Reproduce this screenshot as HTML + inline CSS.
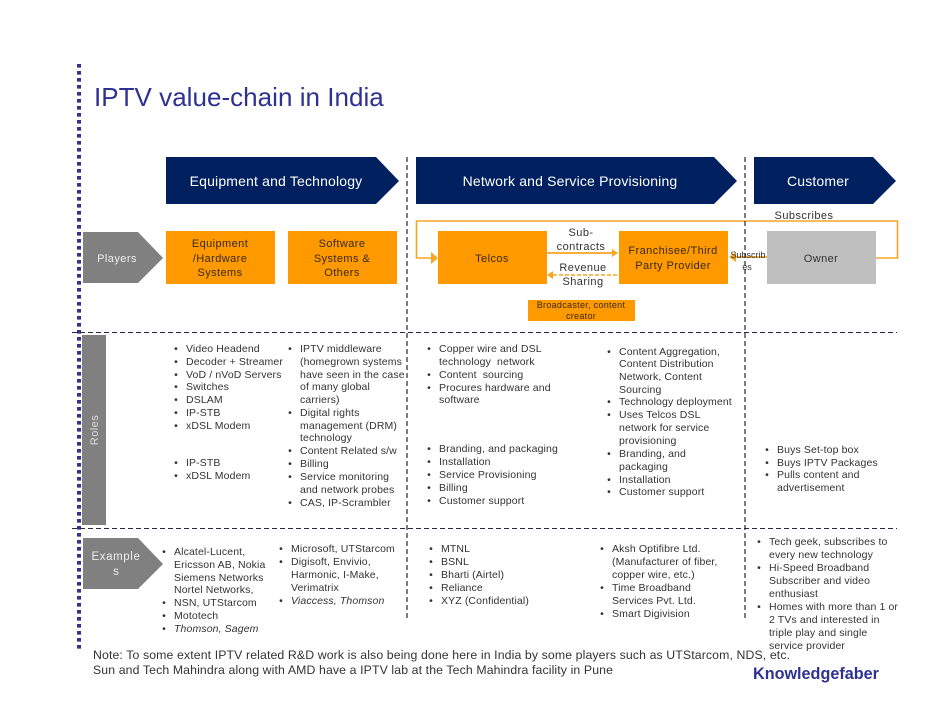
<!DOCTYPE html>
<html>
<head>
<meta charset="utf-8">
<style>
html,body{margin:0;padding:0;background:#fff;width:942px;height:728px;overflow:hidden}
svg{display:block}
text{font-family:"Liberation Sans",sans-serif}
.t{font-size:10.5px;fill:#333;letter-spacing:.12px}
.b{font-size:10.5px;fill:#333;text-anchor:middle}
.h{font-size:14px;fill:#fff;text-anchor:middle;letter-spacing:.17px}
.c{font-size:11px;fill:#3a2a10;text-anchor:middle;letter-spacing:.42px}
.l{font-size:11px;fill:#333;text-anchor:middle;letter-spacing:.45px}
.n{font-size:12.3px;fill:#333;letter-spacing:.11px}
</style>
</head>
<body>
<svg width="942" height="728" viewBox="0 0 942 728" xmlns="http://www.w3.org/2000/svg">
<line x1="79" y1="64" x2="79" y2="652" stroke="#33338a" stroke-width="4" stroke-dasharray="3.6 3.4"/>
<text x="94" y="106" font-size="26" fill="#2e3192" letter-spacing=".03">IPTV value-chain in India</text>

<polygon points="166,157 376,157 399,181 376,204 166,204" fill="#002060"/>
<polygon points="416,157 714,157 737,181 714,204 416,204" fill="#002060"/>
<polygon points="754,157 873,157 896,181 873,204 754,204" fill="#002060"/>
<text class="h" x="276" y="186">Equipment and Technology</text>
<text class="h" x="570" y="186">Network and Service Provisioning</text>
<text class="h" x="818" y="186">Customer</text>

<polygon points="83,232 138,232 163,258 138,283 83,283" fill="#808080"/>
<text x="117" y="262" font-size="11" fill="#eee" text-anchor="middle" letter-spacing=".45">Players</text>

<rect x="166" y="231" width="109" height="53" fill="#ff9900"/>
<rect x="288" y="231" width="109" height="53" fill="#ff9900"/>
<rect x="438" y="231" width="109" height="53" fill="#ff9900"/>
<rect x="619" y="231" width="109" height="53" fill="#ff9900"/>
<rect x="767" y="231" width="109" height="53" fill="#bfbfbf"/>
<rect x="528" y="300" width="107" height="21" fill="#ff9900"/>

<text class="c" x="220" y="247">Equipment</text>
<text class="c" x="220" y="262">/Hardware</text>
<text class="c" x="220" y="276">Systems</text>
<text class="c" x="342" y="247">Software</text>
<text class="c" x="342" y="262">Systems &amp;</text>
<text class="c" x="342" y="276">Others</text>
<text class="c" x="492" y="262">Telcos</text>
<text class="c" x="673" y="254">Franchisee/Third</text>
<text class="c" x="673" y="269">Party Provider</text>
<text class="c" x="821" y="262" style="fill:#333">Owner</text>
<text x="581" y="308" font-size="9" fill="#3a2a10" text-anchor="middle" letter-spacing=".3">Broadcaster, content</text>
<text x="581" y="319" font-size="9" fill="#3a2a10" text-anchor="middle" letter-spacing=".3">creator</text>

<polyline points="876,258 897.5,258 897.5,221 416.5,221 416.5,258 432,258" fill="none" stroke="#f5a623" stroke-width="1.6"/>
<polygon points="431,252 438,258 431,264" fill="#f5a623"/>
<line x1="547" y1="253" x2="612" y2="253" stroke="#f5a623" stroke-width="1.8"/>
<polygon points="612,249 618,253 612,257" fill="#f5a623"/>
<line x1="553" y1="275" x2="618" y2="275" stroke="#f5a623" stroke-width="1.6" stroke-dasharray="4 2"/>
<polygon points="553,271 547,275 553,279" fill="#f5a623"/>
<line x1="736" y1="257" x2="767" y2="257" stroke="#f5a623" stroke-width="1.8"/>
<polygon points="736,252 729,257 736,262" fill="#f5a623"/>

<line x1="407" y1="157" x2="407" y2="620" stroke="#444" stroke-width="1.4" stroke-dasharray="5 3"/>
<line x1="745" y1="157" x2="745" y2="620" stroke="#444" stroke-width="1.4" stroke-dasharray="5 3"/>
<line x1="72" y1="332.5" x2="897" y2="332.5" stroke="#1f2a44" stroke-width="1" stroke-dasharray="5 3"/>
<line x1="72" y1="528.5" x2="897" y2="528.5" stroke="#1f2a44" stroke-width="1" stroke-dasharray="5 3"/>

<text class="l" x="804" y="219">Subscribes</text>
<text class="l" x="581" y="236">Sub-</text>
<text class="l" x="581" y="250">contracts</text>
<text class="l" x="583" y="271">Revenue</text>
<text class="l" x="583" y="285">Sharing</text>
<text x="748" y="258" font-size="9" fill="#333" text-anchor="middle">Subscrib</text>
<text x="747" y="270" font-size="9" fill="#333" text-anchor="middle">es</text>

<rect x="82" y="335" width="24" height="190" fill="#808080"/>
<text x="0" y="0" font-size="11" fill="#ddd" text-anchor="middle" letter-spacing=".45" transform="translate(98,430) rotate(-90)">Roles</text>

<polygon points="83,538 138,538 163,564 138,589 83,589" fill="#808080"/>
<text x="116" y="560" font-size="11.5" fill="#eee" text-anchor="middle" letter-spacing=".6">Example</text>
<text x="116" y="575" font-size="11.5" fill="#eee" text-anchor="middle">s</text>

<!-- Roles col 1 -->
<g>
<text class="b" x="176" y="352">•</text><text class="t" x="186" y="352">Video Headend</text>
<text class="b" x="176" y="365">•</text><text class="t" x="186" y="365">Decoder + Streamer</text>
<text class="b" x="176" y="378">•</text><text class="t" x="186" y="378">VoD / nVoD Servers</text>
<text class="b" x="176" y="390">•</text><text class="t" x="186" y="390">Switches</text>
<text class="b" x="176" y="403">•</text><text class="t" x="186" y="403">DSLAM</text>
<text class="b" x="176" y="416">•</text><text class="t" x="186" y="416">IP-STB</text>
<text class="b" x="176" y="429">•</text><text class="t" x="186" y="429">xDSL Modem</text>
<text class="b" x="176" y="466">•</text><text class="t" x="186" y="466">IP-STB</text>
<text class="b" x="176" y="479">•</text><text class="t" x="186" y="479">xDSL Modem</text>
</g>
<!-- Roles col 2 -->
<g>
<text class="b" x="290" y="352">•</text><text class="t" x="300" y="352">IPTV middleware</text>
<text class="t" x="300" y="365">(homegrown systems</text>
<text class="t" x="300" y="378">have seen in the case</text>
<text class="t" x="300" y="390">of many global</text>
<text class="t" x="300" y="403">carriers)</text>
<text class="b" x="290" y="416">•</text><text class="t" x="300" y="416">Digital rights</text>
<text class="t" x="300" y="429">management (DRM)</text>
<text class="t" x="300" y="441">technology</text>
<text class="b" x="290" y="454">•</text><text class="t" x="300" y="454">Content Related s/w</text>
<text class="b" x="290" y="467">•</text><text class="t" x="300" y="467">Billing</text>
<text class="b" x="290" y="480">•</text><text class="t" x="300" y="480">Service monitoring</text>
<text class="t" x="300" y="493">and network probes</text>
<text class="b" x="290" y="506">•</text><text class="t" x="300" y="506">CAS, IP-Scrambler</text>
</g>
<!-- Roles col 3 -->
<g>
<text class="b" x="429" y="352">•</text><text class="t" x="439" y="352">Copper wire and DSL</text>
<text class="t" x="439" y="365" xml:space="preserve">technology  network</text>
<text class="b" x="429" y="378">•</text><text class="t" x="439" y="378" xml:space="preserve">Content  sourcing</text>
<text class="b" x="429" y="391">•</text><text class="t" x="439" y="391">Procures hardware and</text>
<text class="t" x="439" y="403">software</text>
<text class="b" x="429" y="452">•</text><text class="t" x="439" y="452">Branding, and packaging</text>
<text class="b" x="429" y="465">•</text><text class="t" x="439" y="465">Installation</text>
<text class="b" x="429" y="478">•</text><text class="t" x="439" y="478">Service Provisioning</text>
<text class="b" x="429" y="491">•</text><text class="t" x="439" y="491">Billing</text>
<text class="b" x="429" y="504">•</text><text class="t" x="439" y="504">Customer support</text>
</g>
<!-- Roles col 4 -->
<g>
<text class="b" x="609" y="355">•</text><text class="t" x="619" y="355">Content Aggregation,</text>
<text class="t" x="619" y="367">Content Distribution</text>
<text class="t" x="619" y="380">Network, Content</text>
<text class="t" x="619" y="393">Sourcing</text>
<text class="b" x="609" y="405">•</text><text class="t" x="619" y="405">Technology deployment</text>
<text class="b" x="609" y="418">•</text><text class="t" x="619" y="418">Uses Telcos DSL</text>
<text class="t" x="619" y="431">network for service</text>
<text class="t" x="619" y="444">provisioning</text>
<text class="b" x="609" y="457">•</text><text class="t" x="619" y="457">Branding, and</text>
<text class="t" x="619" y="470">packaging</text>
<text class="b" x="609" y="483">•</text><text class="t" x="619" y="483">Installation</text>
<text class="b" x="609" y="495">•</text><text class="t" x="619" y="495">Customer support</text>
</g>
<!-- Roles col 5 -->
<g>
<text class="b" x="767" y="453">•</text><text class="t" x="777" y="453">Buys Set-top box</text>
<text class="b" x="767" y="466">•</text><text class="t" x="777" y="466">Buys IPTV Packages</text>
<text class="b" x="767" y="478">•</text><text class="t" x="777" y="478">Pulls content and</text>
<text class="t" x="777" y="491">advertisement</text>
</g>
<!-- Examples col 1 -->
<g>
<text class="b" x="164" y="555">•</text><text class="t" x="174" y="555">Alcatel-Lucent,</text>
<text class="t" x="174" y="568">Ericsson AB, Nokia</text>
<text class="t" x="174" y="581">Siemens Networks</text>
<text class="t" x="174" y="593">Nortel Networks,</text>
<text class="b" x="164" y="606">•</text><text class="t" x="174" y="606">NSN, UTStarcom</text>
<text class="b" x="164" y="619">•</text><text class="t" x="174" y="619">Mototech</text>
<text class="b" x="164" y="632">•</text><text class="t" x="174" y="632" font-style="italic">Thomson, Sagem</text>
</g>
<!-- Examples col 2 -->
<g>
<text class="b" x="281" y="552">•</text><text class="t" x="291" y="552">Microsoft, UTStarcom</text>
<text class="b" x="281" y="565">•</text><text class="t" x="291" y="565">Digisoft, Envivio,</text>
<text class="t" x="291" y="578">Harmonic, I-Make,</text>
<text class="t" x="291" y="591">Verimatrix</text>
<text class="b" x="281" y="604">•</text><text class="t" x="291" y="604" font-style="italic">Viaccess, Thomson</text>
</g>
<!-- Examples col 3 -->
<g>
<text class="b" x="431" y="552">•</text><text class="t" x="441" y="552">MTNL</text>
<text class="b" x="431" y="565">•</text><text class="t" x="441" y="565">BSNL</text>
<text class="b" x="431" y="578">•</text><text class="t" x="441" y="578">Bharti (Airtel)</text>
<text class="b" x="431" y="591">•</text><text class="t" x="441" y="591">Reliance</text>
<text class="b" x="431" y="604">•</text><text class="t" x="441" y="604">XYZ (Confidential)</text>
</g>
<!-- Examples col 4 -->
<g>
<text class="b" x="602" y="552">•</text><text class="t" x="612" y="552">Aksh Optifibre Ltd.</text>
<text class="t" x="612" y="565">(Manufacturer of fiber,</text>
<text class="t" x="612" y="578">copper wire, etc.)</text>
<text class="b" x="602" y="591">•</text><text class="t" x="612" y="591">Time Broadband</text>
<text class="t" x="612" y="604">Services Pvt. Ltd.</text>
<text class="b" x="602" y="617">•</text><text class="t" x="612" y="617">Smart Digivision</text>
</g>
<!-- Examples col 5 -->
<g>
<text class="b" x="759" y="545">•</text><text class="t" x="769" y="545">Tech geek, subscribes to</text>
<text class="t" x="769" y="558">every new technology</text>
<text class="b" x="759" y="571">•</text><text class="t" x="769" y="571">Hi-Speed Broadband</text>
<text class="t" x="769" y="584">Subscriber and video</text>
<text class="t" x="769" y="597">enthusiast</text>
<text class="b" x="759" y="610">•</text><text class="t" x="769" y="610">Homes with more than 1 or</text>
<text class="t" x="769" y="623">2 TVs and interested in</text>
<text class="t" x="769" y="636">triple play and single</text>
<text class="t" x="769" y="649">service provider</text>
</g>

<text class="n" x="93" y="659">Note: To some extent IPTV related R&amp;D work is also being done here in India by some players such as UTStarcom, NDS, etc.</text>
<text class="n" x="93" y="674">Sun and Tech Mahindra along with AMD have a IPTV lab at the Tech Mahindra facility in Pune</text>
<text x="753" y="679" font-size="16.2" font-weight="bold" fill="#2e3192">Knowledgefaber</text>
</svg>
</body>
</html>
